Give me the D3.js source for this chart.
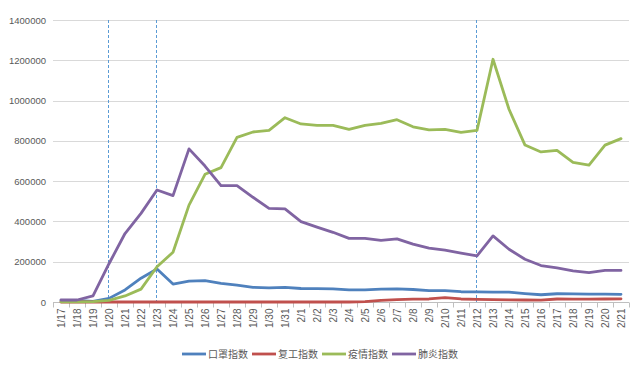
<!DOCTYPE html>
<html><head><meta charset="utf-8">
<script src="https://cdn.jsdelivr.net/npm/d3@7"></script>
<style>body{margin:0;background:#fff;}svg{display:block;font-family:"Liberation Sans","Noto Sans CJK SC",sans-serif;}</style>
</head><body>
<svg id="c" width="641" height="370"></svg>
<script>
const dates = ["1/17","1/18","1/19","1/20","1/21","1/22","1/23","1/24","1/25","1/26","1/27","1/28","1/29","1/30","1/31","2/1","2/2","2/3","2/4","2/5","2/6","2/7","2/8","2/9","2/10","2/11","2/12","2/13","2/14","2/15","2/16","2/17","2/18","2/19","2/20","2/21"];
const maskIndex = [8000,8000,3000,18000,60000,118000,164000,89000,104000,106000,93000,84000,73000,70000,73000,67000,66000,65000,60000,60000,64000,65000,62000,56000,56000,51000,50000,49000,49000,42000,36000,41000,40000,39000,39000,38000];
const workIndex = [0,0,0,0,0,0,0,0,0,0,0,0,0,0,0,0,0,0,0,2000,8000,12000,14000,15000,22000,15000,13000,12000,11000,10000,9000,15000,14000,14000,15000,16000];
const epidemicIndex = [1000,1000,2000,8000,30000,64000,175000,247000,481000,634000,667000,817000,844000,852000,915000,884000,877000,877000,857000,877000,887000,905000,870000,855000,857000,842000,852000,1205000,957000,779000,745000,753000,693000,680000,779000,811000];
const pneumoniaIndex = [10000,10000,30000,190000,340000,440000,556000,528000,760000,675000,578000,578000,520000,465000,462000,399000,372000,346000,316000,316000,306000,313000,287000,268000,258000,243000,229000,328000,262000,212000,181000,169000,155000,146000,157000,157000];
const seriesNames = ["口罩指数","复工指数","疫情指数","肺炎指数"];
const seriesColors = ["#4F81BD","#C0504D","#9BBB59","#8064A2"];
const yTicks = [0,200000,400000,600000,800000,1000000,1200000,1400000];
const markerDates = ["1/20","1/23","2/12"];

const series = [maskIndex, workIndex, epidemicIndex, pneumoniaIndex];
const svg = d3.select("#c");
const pLeft = 53, pRight = 629, pTop = 20, pBottom = 302;

const x = d3.scaleBand().domain(dates).range([pLeft, pRight]);
const y = d3.scaleLinear().domain([0, 1400000]).range([pBottom, pTop]);
const cx = d => x(d) + x.bandwidth()/2;

// gridlines
svg.append("g").selectAll("line").data(yTicks.slice(1)).join("line")
  .attr("x1", pLeft).attr("x2", pRight)
  .attr("y1", d => Math.round(y(d))+0.5).attr("y2", d => Math.round(y(d))+0.5)
  .attr("stroke", "#D9D9D9").attr("stroke-width", 1);

// y labels
const yAxis = svg.append("g").attr("transform", `translate(${pLeft-7},0)`)
  .call(d3.axisLeft(y).tickValues(yTicks).tickSize(0).tickPadding(0).tickFormat(d3.format("d")));
yAxis.select(".domain").remove();
yAxis.selectAll("text").attr("fill", "#595959").style("font-size", "9.5px");

// x axis
const xAxisG = svg.append("g").attr("transform", `translate(0,${pBottom+0.5})`);
xAxisG.append("line").attr("x1", pLeft).attr("x2", pRight).attr("stroke", "#BFBFBF");
const bounds = d3.range(dates.length+1).map(i => pLeft + i*x.step());
xAxisG.selectAll("line.tk").data(bounds).join("line").attr("class","tk")
  .attr("x1", d => Math.round(d)+0.5).attr("x2", d => Math.round(d)+0.5)
  .attr("y1", 0).attr("y2", 5).attr("stroke", "#BFBFBF");
xAxisG.selectAll("text").data(dates).join("text")
  .attr("transform", d => `translate(${cx(d)+3.5},6) rotate(-90)`)
  .attr("text-anchor", "end").attr("fill", "#595959").style("font-size", "10px")
  .text(d => d);

// dashed markers
svg.append("g").selectAll("line").data(markerDates).join("line")
  .attr("x1", d => Math.round(cx(d))-0.5).attr("x2", d => Math.round(cx(d))-0.5)
  .attr("y1", pTop).attr("y2", pBottom)
  .attr("stroke", "#5B9BD5").attr("stroke-width", 1).attr("stroke-dasharray", "3,2");

// lines
const line = d3.line().x((d,i) => cx(dates[i])).y(d => y(d));
svg.append("g").selectAll("path").data(series).join("path")
  .attr("d", d => line(d)).attr("fill", "none")
  .attr("stroke", (d,i) => seriesColors[i]).attr("stroke-width", 2.8)
  .attr("stroke-linejoin", "round").attr("stroke-linecap", "round");

// legend
const lg = svg.append("g").attr("transform", "translate(182,354)");
let lx = 0;
seriesNames.forEach((n,i) => {
  const g = lg.append("g").attr("transform", `translate(${lx},0)`);
  g.append("line").attr("x1", 0).attr("x2", 24).attr("y1", 0).attr("y2", 0)
    .attr("stroke", seriesColors[i]).attr("stroke-width", 2.8);
  g.append("text").attr("x", 26).attr("y", 3.5).attr("fill", "#595959")
    .style("font-size", "10px").style("font-family", "'Noto Sans CJK SC'").text(n);
  lx += 70;
});
</script>
</body></html>
